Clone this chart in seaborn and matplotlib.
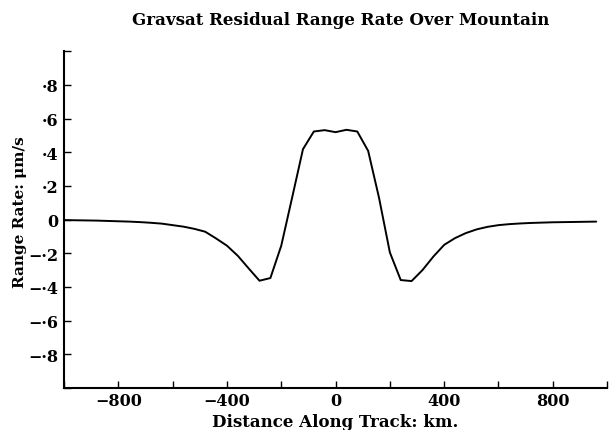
import numpy as np
import pandas as pd
import matplotlib
matplotlib.use("Agg")
import matplotlib.pyplot as plt
import seaborn as sns

# --- Data ---
distance_km = list(range(-1000, 1000, 40))  # -1000 ... 960, 50 points
range_rate = [
    # -1000 .. -320
    -0.003, -0.004, -0.005, -0.006, -0.008, -0.010, -0.012, -0.015, -0.019,
    -0.024, -0.033, -0.042, -0.055, -0.072, -0.112, -0.155, -0.215, -0.290,
    # -280 .. 280
    -0.363, -0.347, -0.155, 0.130, 0.418, 0.523, 0.531, 0.519,
    0.533, 0.523, 0.408, 0.130, -0.195, -0.359, -0.365,
    # 320 .. 960
    -0.300, -0.220, -0.150, -0.110, -0.080, -0.058, -0.043, -0.033, -0.027,
    -0.023, -0.020, -0.018, -0.016, -0.015, -0.014, -0.013, -0.012,
]

x_ticks = list(range(-1000, 1001, 200))
x_labels = ["", "\u2212800", "", "\u2212400", "", "0", "", "400", "", "800", ""]
y_ticks = [-1.0, -0.8, -0.6, -0.4, -0.2, 0.0, 0.2, 0.4, 0.6, 0.8, 1.0]
y_labels = ["", "\u2212\u00b78", "\u2212\u00b76", "\u2212\u00b74", "\u2212\u00b72", "0",
            "\u00b72", "\u00b74", "\u00b76", "\u00b78", ""]

df = pd.DataFrame({"Distance": distance_km, "RangeRate": range_rate})

# --- Style ---
sns.set_style("ticks")
plt.rcParams["font.family"] = "serif"
plt.rcParams["font.serif"] = ["DejaVu Serif"]
plt.rcParams["font.weight"] = "bold"
plt.rcParams["text.color"] = "black"
plt.rcParams["axes.labelcolor"] = "black"
plt.rcParams["xtick.color"] = "black"
plt.rcParams["ytick.color"] = "black"

fig = plt.figure(figsize=(6.12, 4.31), dpi=100)
ax = fig.add_axes([0.1046, 0.0974, 0.8874, 0.7816])

sns.lineplot(data=df, x="Distance", y="RangeRate", ax=ax, color="black", linewidth=1.4)

ax.set_xlim(-1000, 1000)
ax.set_ylim(-1.0, 1.0)
ax.set_xticks(x_ticks)
ax.set_xticklabels(x_labels, fontsize=11.5, fontweight="bold")
ax.set_yticks(y_ticks)
ax.set_yticklabels(y_labels, fontsize=11.5, fontweight="bold")
ax.tick_params(axis="x", direction="in", length=5, width=1.0, colors="black", pad=3)
ax.tick_params(axis="y", direction="in", length=5, width=1.0, colors="black", pad=4)

for side in ["top", "right"]:
    ax.spines[side].set_visible(False)
for side in ["left", "bottom"]:
    ax.spines[side].set_linewidth(1.5)
    ax.spines[side].set_color("black")

ax.set_xlabel("Distance Along Track: km.", fontsize=12, fontweight="bold", labelpad=3)
ax.set_ylabel("Range Rate: \u03bcm/s", fontsize=11, fontweight="bold")
ax.yaxis.set_label_coords(-0.068, 0.525)
fig.text(0.557, 0.953, "Gravsat Residual Range Rate Over Mountain",
         ha="center", va="center", fontsize=12, fontweight="bold")

fig.savefig("out.png", dpi=100)
